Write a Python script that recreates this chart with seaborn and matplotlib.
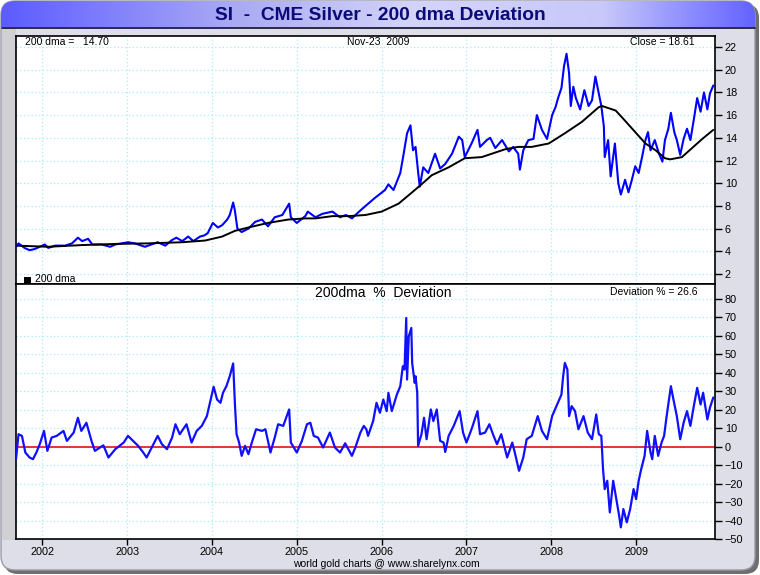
import numpy as np
import pandas as pd
import matplotlib
matplotlib.use("Agg")
import matplotlib.pyplot as plt
import seaborn as sns
from matplotlib.patches import FancyBboxPatch, Rectangle
from matplotlib.colors import LinearSegmentedColormap

# ---------------- data ----------------
price_year = [2001.69, 2001.72, 2001.79, 2001.85, 2001.91, 2002.03, 2002.07, 2002.15, 2002.27, 2002.35,
              2002.42, 2002.47, 2002.54, 2002.59, 2002.70, 2002.80, 2002.86, 2003.01, 2003.09, 2003.21,
              2003.36, 2003.45, 2003.53, 2003.58, 2003.65, 2003.72, 2003.78, 2003.86, 2003.91, 2003.95,
              2004.01, 2004.07, 2004.12, 2004.18, 2004.21, 2004.25, 2004.27, 2004.30, 2004.35, 2004.43,
              2004.51, 2004.59, 2004.66, 2004.74, 2004.83, 2004.91, 2004.93, 2005.00, 2005.10, 2005.13,
              2005.22, 2005.30, 2005.42, 2005.51, 2005.58, 2005.65, 2005.72, 2005.78, 2005.92, 2006.04,
              2006.08, 2006.14, 2006.22, 2006.26, 2006.30, 2006.34, 2006.37, 2006.40, 2006.43, 2006.45,
              2006.49, 2006.55, 2006.63, 2006.69, 2006.75, 2006.83, 2006.91, 2006.95, 2006.98, 2007.06,
              2007.13, 2007.16, 2007.24, 2007.28, 2007.34, 2007.42, 2007.50, 2007.55, 2007.61, 2007.63,
              2007.67, 2007.73, 2007.79, 2007.83, 2007.89, 2007.95, 2008.01, 2008.05, 2008.08, 2008.12,
              2008.15, 2008.18, 2008.21, 2008.23, 2008.26, 2008.29, 2008.34, 2008.39, 2008.44, 2008.48,
              2008.52, 2008.56, 2008.59, 2008.62, 2008.63, 2008.67, 2008.70, 2008.75, 2008.79, 2008.82,
              2008.87, 2008.91, 2008.95, 2008.99, 2009.03, 2009.07, 2009.11, 2009.14, 2009.17, 2009.22,
              2009.27, 2009.31, 2009.34, 2009.38, 2009.41, 2009.45, 2009.48, 2009.52, 2009.56, 2009.60,
              2009.64, 2009.68, 2009.72, 2009.76, 2009.80, 2009.84, 2009.87, 2009.91]
price_close = [4.4, 4.7, 4.3, 4.1, 4.2, 4.6, 4.3, 4.5, 4.5, 4.7,
               5.2, 4.9, 5.1, 4.6, 4.6, 4.4, 4.6, 4.8, 4.7, 4.4,
               4.8, 4.5, 5.0, 5.2, 4.9, 5.3, 4.9, 5.3, 5.4, 5.6,
               6.5, 6.1, 6.3, 6.8, 7.2, 8.3, 7.6, 6.0, 5.7, 6.0,
               6.6, 6.8, 6.2, 7.0, 7.2, 8.2, 7.0, 6.5, 7.1, 7.5,
               7.0, 7.3, 7.5, 7.0, 7.2, 6.9, 7.4, 7.8, 8.7, 9.4,
               9.9, 9.4, 10.9, 12.6, 14.4, 15.1, 12.9, 13.2, 11.0, 9.7,
               11.4, 10.9, 12.6, 11.3, 11.7, 12.6, 14.1, 13.8, 12.3, 13.5,
               14.7, 13.2, 13.8, 14.0, 13.1, 13.8, 12.8, 13.2, 12.6, 11.2,
               12.9, 13.8, 13.9, 16.0, 14.7, 13.9, 16.0, 16.7, 17.5, 18.4,
               20.3, 21.4, 19.7, 16.8, 18.5, 17.5, 16.5, 18.2, 16.8, 17.3,
               19.4, 17.9, 16.8, 15.0, 12.3, 13.8, 10.6, 13.5, 10.0, 9.0,
               10.3, 9.2, 10.3, 11.5, 10.9, 12.3, 13.8, 14.5, 12.9, 13.8,
               12.6, 11.9, 13.8, 14.8, 16.2, 14.5, 13.8, 12.5, 13.9, 14.8,
               13.8, 15.6, 17.5, 16.3, 18.0, 16.5, 17.9, 18.61]

dma_year = [2001.69, 2002.07, 2002.47, 2002.86, 2003.25, 2003.65, 2003.92, 2004.12, 2004.27, 2004.43,
            2004.66, 2004.90, 2005.10, 2005.22, 2005.42, 2005.61, 2005.81, 2006.00, 2006.20, 2006.36,
            2006.47, 2006.59, 2006.79, 2006.98, 2007.18, 2007.30, 2007.46, 2007.61, 2007.77, 2007.97,
            2008.16, 2008.36, 2008.56, 2008.60, 2008.76, 2008.87, 2008.99, 2009.11, 2009.23, 2009.34,
            2009.40, 2009.54, 2009.66, 2009.78, 2009.91]
dma_value = [4.5, 4.4, 4.55, 4.65, 4.7, 4.8, 4.95, 5.3, 5.8, 6.1,
             6.5, 6.8, 6.9, 6.9, 7.1, 7.1, 7.2, 7.5, 8.2, 9.2,
             9.9, 10.7, 11.4, 12.2, 12.3, 12.6, 13.0, 13.2, 13.2, 13.5,
             14.4, 15.4, 16.7, 16.8, 16.4, 15.5, 14.5, 13.5, 12.9, 12.2,
             12.1, 12.3, 13.1, 13.9, 14.70]

dev_year = [2001.69, 2001.72, 2001.76, 2001.80, 2001.85, 2001.89, 2001.93, 2001.97, 2002.02, 2002.06,
            2002.11, 2002.17, 2002.25, 2002.29, 2002.37, 2002.42, 2002.46, 2002.52, 2002.58, 2002.62,
            2002.72, 2002.78, 2002.86, 2002.96, 2003.01, 2003.07, 2003.13, 2003.19, 2003.23, 2003.29,
            2003.36, 2003.41, 2003.47, 2003.53, 2003.57, 2003.62, 2003.70, 2003.76, 2003.82, 2003.88,
            2003.94, 2004.02, 2004.06, 2004.10, 2004.13, 2004.17, 2004.21, 2004.25, 2004.27, 2004.29,
            2004.32, 2004.35, 2004.39, 2004.43, 2004.47, 2004.52, 2004.59, 2004.63, 2004.69, 2004.74,
            2004.78, 2004.84, 2004.91, 2004.93, 2005.00, 2005.06, 2005.12, 2005.16, 2005.20, 2005.25,
            2005.31, 2005.39, 2005.45, 2005.51, 2005.57, 2005.65, 2005.69, 2005.75, 2005.79, 2005.82,
            2005.84, 2005.90, 2005.94, 2005.98, 2006.02, 2006.06, 2006.08, 2006.12, 2006.18, 2006.22,
            2006.25, 2006.27, 2006.29, 2006.30, 2006.32, 2006.35, 2006.36, 2006.39, 2006.40, 2006.42,
            2006.43, 2006.47, 2006.50, 2006.53, 2006.58, 2006.61, 2006.65, 2006.69, 2006.73, 2006.75,
            2006.79, 2006.85, 2006.92, 2006.96, 2007.00, 2007.06, 2007.13, 2007.16, 2007.22, 2007.27,
            2007.32, 2007.36, 2007.41, 2007.48, 2007.54, 2007.57, 2007.62, 2007.67, 2007.71, 2007.77,
            2007.84, 2007.89, 2007.95, 2008.01, 2008.07, 2008.12, 2008.14, 2008.16, 2008.19, 2008.21,
            2008.24, 2008.28, 2008.32, 2008.38, 2008.43, 2008.48, 2008.53, 2008.56, 2008.59, 2008.61,
            2008.63, 2008.66, 2008.69, 2008.73, 2008.76, 2008.80, 2008.82, 2008.85, 2008.89, 2008.93,
            2008.97, 2009.00, 2009.03, 2009.06, 2009.10, 2009.13, 2009.17, 2009.19, 2009.22, 2009.26,
            2009.30, 2009.33, 2009.36, 2009.41, 2009.44, 2009.48, 2009.52, 2009.56, 2009.60, 2009.64,
            2009.68, 2009.72, 2009.76, 2009.79, 2009.84, 2009.87, 2009.91]
dev_pct = [-6.8, 6.7, 5.8, -3.2, -5.9, -6.8, -3.2, 1.3, 8.5, -2.3,
           4.9, 5.8, 8.5, 3.1, 7.6, 15.6, 8.5, 12.9, 3.1, -2.3,
           0.7, -5.9, -1.4, 2.2, 5.8, 3.1, 0.4, -3.2, -5.9, -0.5,
           5.8, 1.3, -1.4, 4.9, 12.1, 6.7, 12.1, 2.2, 8.5, 11.2,
           16.5, 32.4, 25.5, 23.7, 29.1, 32.7, 38.1, 45.0, 23.7, 6.7,
           2.2, -5.0, 0.4, -4.1, 2.2, 9.4, 8.5, 9.4, -3.2, 4.9,
           12.1, 11.2, 20.1, 2.2, -3.2, 3.1, 12.1, 12.9, 5.8, 4.9,
           -0.5, 7.6, -0.5, -3.2, 1.8, -5.0, -0.5, 7.6, 11.2, 9.4,
           5.8, 13.8, 23.7, 18.3, 25.5, 19.2, 29.1, 19.2, 28.2, 32.7,
           43.5, 41.7, 69.6, 36.3, 59.7, 64.2, 45.3, 34.5, 38.1, 29.1,
           0.4, 6.7, 15.6, 4.0, 20.1, 13.8, 20.1, 3.1, 2.2, -2.9,
           5.8, 11.2, 19.2, 7.6, 2.2, 9.4, 19.2, 6.7, 7.6, 12.1,
           5.8, 1.3, 6.7, -5.9, 2.2, -3.2, -13.1, -5.9, 4.0, 5.8,
           16.5, 8.5, 4.0, 16.5, 22.8, 28.2, 38.1, 45.3, 41.7, 16.5,
           21.9, 19.2, 9.4, 16.5, 7.6, 4.0, 17.4, 6.7, 5.8, -12.2,
           -23.0, -18.5, -35.6, -18.5, -26.6, -37.4, -43.7, -33.8, -41.0, -33.8,
           -23.0, -28.4, -18.5, -12.2, -5.0, 8.5, -3.2, -6.8, 5.8, -5.0,
           2.2, 5.8, 16.5, 32.7, 25.5, 16.5, 4.0, 12.9, 19.2, 11.2,
           21.9, 31.8, 22.8, 29.1, 14.7, 21.0, 26.6]

year_ticks = [2002, 2003, 2004, 2005, 2006, 2007, 2008, 2009]
year_labels = ["2002", "2003", "2004", "2005", "2006", "2007", "2008", "2009"]
price_ticks = [2, 4, 6, 8, 10, 12, 14, 16, 18, 20, 22]
dev_ticks = [-50, -40, -30, -20, -10, 0, 10, 20, 30, 40, 50, 60, 70, 80]

title_text = "SI  -  CME Silver - 200 dma Deviation"
dma_label = "200 dma =   14.70"
date_label = "Nov-23  2009"
close_label = "Close = 18.61"
dev_title = "200dma  %  Deviation"
dev_label = "Deviation % = 26.6"
footer = "world gold charts @ www.sharelynx.com"

# ---------------- styling ----------------
sns.set_theme(style="white")
plt.rcParams['font.family'] = ['Liberation Sans', 'DejaVu Sans']

W, H = 760, 575
fig = plt.figure(figsize=(W / 100, H / 100), dpi=100)
fig.patch.set_facecolor('white')

bg = fig.add_axes([0, 0, 1, 1], zorder=-10)
bg.set_xlim(0, W)
bg.set_ylim(H, 0)
bg.axis('off')

# frame with shadow
bg.add_patch(FancyBboxPatch((4, 4), W - 5, H - 5, boxstyle="round,pad=0,rounding_size=14",
                            fc='#6e6e6e', ec='none'))
frame = FancyBboxPatch((1, 1), W - 6, H - 6, boxstyle="round,pad=0,rounding_size=14",
                       fc='#dedee8', ec='#9a9aaa', lw=1)
bg.add_patch(frame)
# left grey strip
bg.add_patch(Rectangle((2, 28), 14, 512, fc='#cfcfd4', ec='none'))

# title bar gradient
cmap = LinearSegmentedColormap.from_list(
    'tb', [(0.0, '#5c5cff'), (0.08, '#7070ff'), (0.3, '#a8a8f4'), (0.55, '#d4d4fa'),
           (0.8, '#c8c8fa'), (0.92, '#8a8aff'), (1.0, '#6464ff')])
grad = np.linspace(0, 1, 256).reshape(1, -1)
im = bg.imshow(grad, cmap=cmap, extent=(1, W - 5, 27, 1), aspect='auto', zorder=1)
clip = FancyBboxPatch((1, 1), W - 6, 60, boxstyle="round,pad=0,rounding_size=14",
                      fc='none', ec='none', transform=bg.transData)
bg.add_patch(clip)
im.set_clip_path(clip)
bg.set_xlim(0, W)
bg.set_ylim(H, 0)
bg.plot([2, W - 5], [27.5, 27.5], color='#1a1a40', lw=1.3, zorder=2)
bg.text(380, 15.5, title_text, ha='center', va='center', fontsize=13.8,
        fontweight='bold', color='#0a0a78', zorder=3)

# ---------------- axes ----------------
L, R = 16, 715
ax1 = fig.add_axes([L / W, 1 - 284 / H, (R - L) / W, (284 - 36) / H])
ax2 = fig.add_axes([L / W, 1 - 539 / H, (R - L) / W, (539 - 284) / H])

grid_kw = dict(color='#a6eef2', linestyle=(0, (1, 2)), linewidth=0.9)
for ax in (ax1, ax2):
    ax.set_facecolor('white')
    ax.set_xlim(2001.69, 2009.93)
    ax.set_xticks(year_ticks)
    ax.grid(True, **grid_kw)
    ax.set_axisbelow(True)
    for s in ax.spines.values():
        s.set_color('black')
        s.set_linewidth(1.2)
        s.set_visible(True)
    ax.yaxis.tick_right()
    ax.tick_params(axis='y', which='both', direction='out', length=5, width=1,
                   labelsize=7.8, pad=2, colors='black', right=True, left=False)

# price panel
sns.lineplot(x=price_year, y=price_close, ax=ax1, color='#0000ff', lw=1.5,
             estimator=None, sort=False, zorder=3)
sns.lineplot(x=dma_year, y=dma_value, ax=ax1, color='black', lw=1.4,
             estimator=None, sort=False, zorder=4)
ax1.set_ylim(1.12, 22.97)
ax1.set_yticks(price_ticks)
ax1.tick_params(axis='x', length=0, labelbottom=False)
ax1.set_xlabel('')
ax1.set_ylabel('')

# deviation panel
ax2.axhline(0, color='#e00000', lw=1.1, zorder=2)
sns.lineplot(x=dev_year, y=dev_pct, ax=ax2, color='#1010ff', lw=1.6,
             estimator=None, sort=False, zorder=3)
ax2.set_ylim(-50, 88)
ax2.set_yticks(dev_ticks)
ax2.set_xticks(year_ticks, year_labels)
ax2.tick_params(axis='x', direction='out', length=4, width=1, labelsize=7.8, pad=2,
                bottom=True, colors='black')
ax2.set_xlabel('')
ax2.set_ylabel('')

# ---------------- annotations ----------------
def ftext(x, y, s, **kw):
    fig.text(x / W, 1 - y / H, s, **kw)

ftext(25, 42, dma_label, ha='left', va='center', fontsize=7.5, color='black')
ftext(378, 42, date_label, ha='center', va='center', fontsize=7.5, color='black')
ftext(695, 42, close_label, ha='right', va='center', fontsize=7.5, color='black')
fig.patches.append(Rectangle((24 / W, 1 - 283.5 / H), 7 / W, 7 / H, transform=fig.transFigure,
                             fc='black', ec='none', figure=fig, zorder=10))
ftext(35, 279.5, "200 dma", ha='left', va='center', fontsize=7.5, color='black')
ftext(383, 293, dev_title, ha='center', va='center', fontsize=10, color='black')
ftext(697, 292, dev_label, ha='right', va='center', fontsize=7.5, color='black')
ftext(386, 564, footer, ha='center', va='center', fontsize=7.5, color='black')

fig.savefig('out.png', dpi=100)
